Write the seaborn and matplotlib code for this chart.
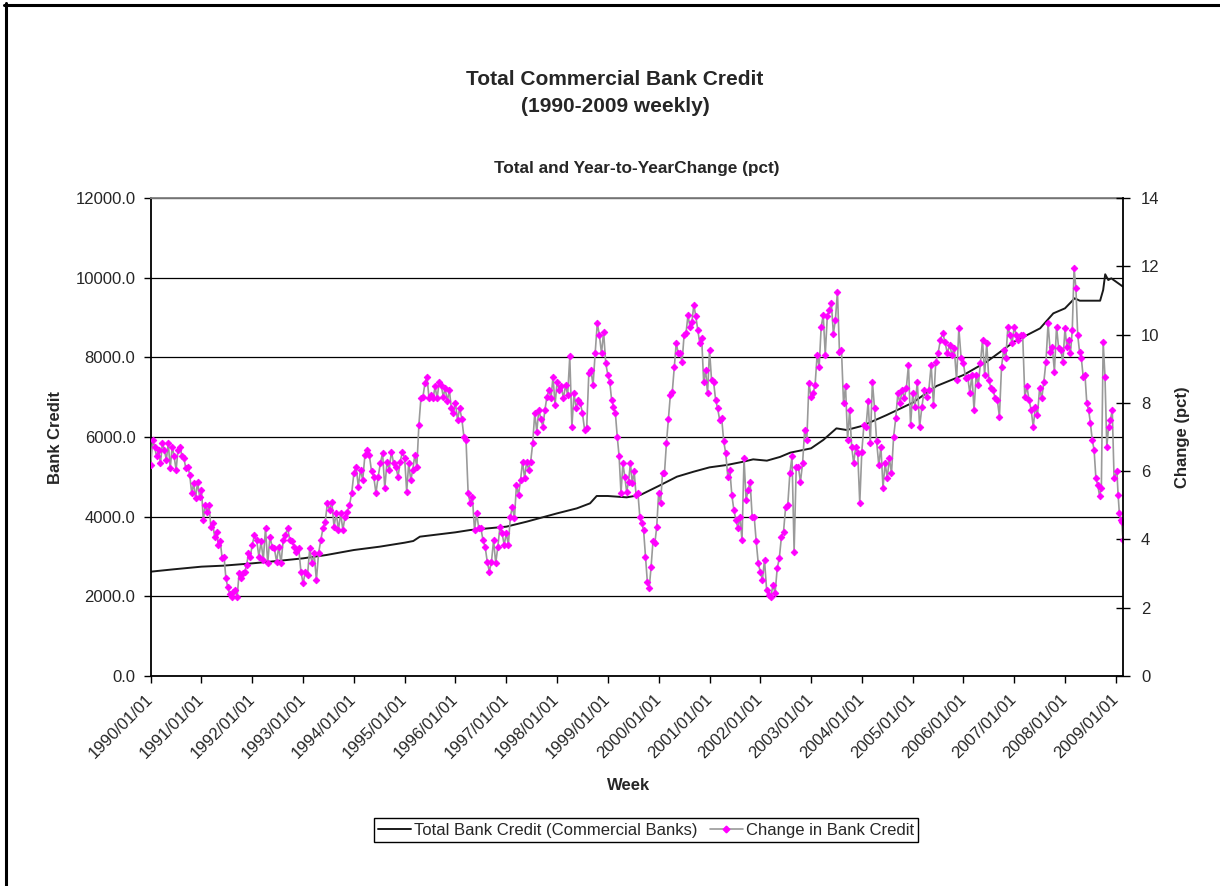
import numpy as np
import pandas as pd
import matplotlib
matplotlib.use("Agg")
import matplotlib.pyplot as plt
import seaborn as sns
from matplotlib.lines import Line2D
from matplotlib.ticker import FuncFormatter

# ---------------- data ----------------
# Year-to-year change (pct), readings within each calendar year (in order)
pct_1990 = [6.18, 6.91, 6.72, 6.43, 6.62, 6.23, 6.82, 6.62, 6.33, 6.82, 6.08, 6.72, 6.43,
            6.04, 6.62, 6.72, 6.43, 6.38, 6.08, 6.13, 5.89, 5.35, 5.64, 5.20, 5.69, 5.25]
pct_1991 = [5.45, 4.57, 5.01, 4.81, 5.01, 4.37, 4.47, 4.08, 4.23, 3.84, 3.94, 3.45, 3.50,
            2.86, 2.60, 2.40, 2.32, 2.45, 2.52, 2.32, 3.01, 2.86, 3.01, 3.06, 3.25, 3.59, 3.50]
pct_1992 = [3.84, 4.13, 3.98, 3.50, 3.94, 3.40, 4.33, 3.30, 4.08, 3.79, 3.74, 3.35, 3.79,
            3.30, 3.98, 4.13, 4.33, 3.98, 3.94, 3.79, 3.64, 3.74, 3.06]
pct_1993 = [2.71, 3.06, 2.96, 3.74, 3.30, 3.59, 2.81, 3.59, 3.98, 4.33, 4.52, 5.06, 4.86,
            5.11, 4.37, 4.77, 4.28, 4.77, 4.28, 4.67, 4.81, 5.01, 5.35]
pct_1994 = [5.94, 6.13, 5.55, 6.04, 5.74, 6.47, 6.62, 6.47, 5.99, 5.84, 5.35, 5.84, 6.23,
            6.52, 5.50, 6.28, 6.04, 6.57, 6.23, 6.13, 5.84, 6.28, 6.57]
pct_1995 = [6.38, 5.40, 6.23, 5.74, 6.04, 6.47, 6.13, 7.35, 8.13, 8.18, 8.57, 8.77, 8.13,
            8.23, 8.13, 8.48, 8.13, 8.62, 8.52, 8.18, 8.43, 8.04, 8.38, 7.84, 7.70]
pct_1996 = [7.99, 7.50, 7.84, 7.54, 7.01, 6.91, 5.35, 5.06, 5.25, 4.28, 4.77, 4.33, 4.33,
            3.98, 3.79, 3.35, 3.06, 3.35, 3.98, 3.30, 3.79, 4.37, 4.18, 3.84]
pct_1997 = [4.18, 3.84, 4.67, 4.96, 4.62, 5.60, 5.30, 5.74, 6.28, 5.79, 6.28, 6.04, 6.28,
            6.82, 7.70, 7.16, 7.79, 7.54, 7.30, 7.79, 8.18, 8.38, 8.13, 8.77, 7.94]
pct_1998 = [8.62, 8.38, 8.48, 8.13, 8.52, 8.23, 9.36, 7.30, 8.28, 7.84, 8.09, 7.99, 7.70,
            7.21, 7.26, 8.87, 8.96, 8.52, 9.45, 10.33, 9.98, 9.45, 10.08, 9.16]
pct_1999 = [8.82, 8.62, 8.09, 7.89, 7.70, 7.01, 6.43, 5.35, 6.23, 5.84, 5.40, 5.69, 6.23,
            5.64, 5.99, 5.30, 5.35, 4.67, 4.47, 4.28, 3.50, 2.76, 2.57, 3.20, 3.94, 3.89, 4.37]
pct_2000 = [5.35, 5.06, 5.94, 5.94, 6.82, 7.54, 8.23, 8.33, 9.06, 9.75, 9.45, 9.45, 9.20,
            9.98, 10.04, 10.57, 10.23, 10.37, 10.87, 10.53, 10.14, 9.75, 9.89, 8.62, 8.96, 8.28]
pct_2001 = [9.55, 8.67, 8.62, 8.09, 7.84, 7.50, 7.55, 6.87, 6.52, 5.84, 6.04, 5.30, 4.86,
            4.57, 4.33, 4.67, 3.98, 6.38, 5.16, 5.45, 5.69, 4.67, 4.67, 3.94, 3.30]
pct_2002 = [3.06, 2.81, 3.40, 2.52, 2.37, 2.32, 2.67, 2.42, 3.15, 3.45, 4.08, 4.23, 4.96,
            5.01, 5.94, 6.43, 3.64, 6.13, 6.13, 5.69, 6.23, 7.21, 6.91, 8.57]
pct_2003 = [8.18, 8.28, 8.52, 9.41, 9.06, 10.23, 10.57, 9.41, 10.53, 10.72, 10.92, 10.03,
            10.43, 11.26, 9.50, 9.55, 7.99, 8.48, 6.91, 7.79, 6.72, 6.23, 6.72, 6.52, 5.06]
pct_2004 = [6.57, 7.35, 7.30, 8.04, 6.82, 8.62, 7.84, 6.87, 6.18, 6.72, 5.52, 6.23, 5.79,
            6.38, 5.94, 7.01, 7.55, 8.28, 7.99, 8.38, 8.13, 8.43, 9.11, 7.35]
pct_2005 = [8.28, 7.89, 8.62, 7.30, 7.89, 8.38, 8.18, 8.38, 9.11, 7.94, 9.20, 9.45, 9.84,
            10.04, 9.79, 9.45, 9.70, 9.41, 9.60, 8.67, 10.18, 9.30]
pct_2006 = [9.16, 8.72, 8.77, 8.28, 8.82, 7.79, 8.82, 8.52, 9.16, 9.84, 8.82, 9.75, 8.67,
            8.43, 8.38, 8.13, 8.09, 7.60, 9.06, 9.55, 9.30, 10.23, 9.98, 9.75]
pct_2007 = [10.23, 9.98, 9.84, 9.98, 9.98, 8.18, 8.48, 8.09, 7.79, 7.30, 7.89, 7.65, 8.43,
            8.13, 8.62, 9.20, 10.33, 9.50, 9.65, 8.91, 10.23, 9.60, 9.55, 9.20]
pct_2008 = [10.18, 9.65, 9.84, 9.45, 10.13, 11.94, 11.36, 9.98, 9.50, 9.30, 8.77, 8.82,
            7.99, 7.79, 7.40, 6.91, 6.63, 5.79, 5.60, 5.28, 5.50, 9.79, 8.77, 6.72, 7.30,
            7.50, 7.79, 5.79]
pct_2009 = [5.99, 5.30, 4.77, 4.57, 4.52, 3.98]
pct_2009_span = [2009.02, 2009.14]   # first and last reading of 2009 (fractional year)

# Total bank credit (commercial banks), fractional year and level
credit_year = [1990.0, 1990.45, 1991.0, 1991.43, 1992.0, 1992.55, 1993.0, 1993.46, 1994.0,
               1994.51, 1995.0, 1995.17, 1995.30, 1996.0, 1996.29, 1997.0, 1997.40, 1998.0,
               1998.39, 1998.65, 1998.78, 1999.0, 1999.37, 1999.64, 2000.0, 2000.36, 2000.69,
               2001.0, 2001.34, 2001.67, 2001.86, 2002.13, 2002.39, 2002.59, 2003.0, 2003.24,
               2003.50, 2003.70, 2004.0, 2004.49, 2005.0, 2005.47, 2006.0, 2006.46, 2007.0,
               2007.51, 2007.77, 2008.0, 2008.19, 2008.29, 2008.69, 2008.75, 2008.79,
               2008.85, 2008.91, 2009.14]
credit_val = [2619, 2678, 2745, 2770, 2828, 2895, 2954, 3038, 3163, 3247, 3347, 3389, 3498,
              3607, 3665, 3749, 3874, 4083, 4209, 4335, 4519, 4519, 4485, 4544, 4770, 5004,
              5130, 5238, 5297, 5381, 5439, 5406, 5500, 5607, 5715, 5925, 6217, 6176, 6276,
              6552, 6862, 7280, 7556, 7891, 8393, 8728, 9104, 9230, 9482, 9422, 9422, 9690,
              10085, 9941, 9983, 9774]

x_tick_years = list(range(1990, 2010))
x_tick_labels = [f"{y}/01/01" for y in x_tick_years]
left_ticks = [0, 2000, 4000, 6000, 8000, 10000, 12000]
right_ticks = [0, 2, 4, 6, 8, 10, 12, 14]

title_text = "Total Commercial Bank Credit\n(1990-2009 weekly)"
subtitle_text = "Total and Year-to-YearChange (pct)"
label_credit = "Total Bank Credit (Commercial Banks)"
label_change = "Change in Bank Credit"

# ---------------- helpers ----------------
def frac_to_date(y):
    y0 = int(np.floor(y))
    start = pd.Timestamp(year=y0, month=1, day=1)
    end = pd.Timestamp(year=y0 + 1, month=1, day=1)
    return start + (end - start) * (y - y0)

pct_by_year = {1990: pct_1990, 1991: pct_1991, 1992: pct_1992, 1993: pct_1993,
               1994: pct_1994, 1995: pct_1995, 1996: pct_1996, 1997: pct_1997,
               1998: pct_1998, 1999: pct_1999, 2000: pct_2000, 2001: pct_2001,
               2002: pct_2002, 2003: pct_2003, 2004: pct_2004, 2005: pct_2005,
               2006: pct_2006, 2007: pct_2007, 2008: pct_2008}
fr, vals = [], []
for yr, v in pct_by_year.items():
    n = len(v)
    fr.extend(list(yr + np.arange(n) / n))
    vals.extend(v)
fr.extend(list(np.linspace(pct_2009_span[0], pct_2009_span[1], len(pct_2009))))
vals.extend(pct_2009)
pct_df = pd.DataFrame({"Week": [frac_to_date(f) for f in fr], "Change": vals})
credit_df = pd.DataFrame({"Week": [frac_to_date(f) for f in credit_year],
                          "Credit": credit_val})

# ---------------- style ----------------
sns.set_theme(style="white")
plt.rcParams["font.family"] = ["Liberation Sans", "DejaVu Sans"]

W, H = 1220, 886
fig = plt.figure(figsize=(W / 100, H / 100), dpi=100)
L, R, T, B = 150.7, 1123.0, 198.0, 676.0
ax = fig.add_axes([L / W, 1 - B / H, (R - L) / W, (B - T) / H])
ax2 = ax.twinx()

sns.lineplot(data=credit_df, x="Week", y="Credit", ax=ax, color="#1a1a1a",
             linewidth=1.4, estimator=None, sort=False, label=label_credit, legend=False)
sns.lineplot(data=pct_df, x="Week", y="Change", ax=ax2, color="#9a9a9a",
             linewidth=1.2, estimator=None, sort=False, marker="D", markersize=3.4,
             markerfacecolor="#FF00FF", markeredgecolor="#FF00FF", markeredgewidth=0.6,
             label=label_change, legend=False)

# axes limits and ticks
ax.set_xlim(frac_to_date(1990.0), frac_to_date(pct_2009_span[1]))
ax.set_ylim(0, 12000)
ax2.set_ylim(0, 14)
ax.set_yticks(left_ticks)
ax.yaxis.set_major_formatter(FuncFormatter(lambda v, p: f"{v:.1f}"))
ax2.set_yticks(right_ticks)
ax2.set_yticklabels([str(t) for t in right_ticks])
ax.set_xticks([pd.Timestamp(year=y, month=1, day=1) for y in x_tick_years])
ax.set_xticklabels(x_tick_labels, rotation=45, ha="right", rotation_mode="anchor",
                   va="center")

ax.tick_params(axis="x", direction="out", length=5, width=1, color="black",
               labelsize=12, pad=10, bottom=True)
ax.tick_params(axis="y", direction="out", length=5, width=1, color="black",
               labelsize=12, pad=6, left=True)
ax2.tick_params(axis="y", direction="inout", length=10, width=1, color="black",
                labelsize=12, pad=8, right=True)

ax.yaxis.grid(True, color="black", linewidth=0.9)
ax.xaxis.grid(False)
ax2.grid(False)
ax.set_axisbelow(True)

for sp in ["left", "bottom"]:
    ax.spines[sp].set_color("black")
    ax.spines[sp].set_linewidth(1.3)
ax.spines["top"].set_color("#808080")
ax.spines["top"].set_linewidth(1.3)
ax.spines["right"].set_visible(False)
for sp in ["left", "bottom", "top"]:
    ax2.spines[sp].set_visible(False)
ax2.spines["right"].set_color("black")
ax2.spines["right"].set_linewidth(1.3)

ax.set_xlabel("")
ax.set_ylabel("")
ax2.set_ylabel("")

# texts
fig.text(615 / W, 1 - 93 / H, title_text, ha="center", va="center", fontsize=15,
         fontweight="bold", linespacing=1.55)
fig.text(637 / W, 1 - 168 / H, subtitle_text, ha="center", va="center", fontsize=12.4,
         fontweight="bold")
fig.text(55 / W, 1 - 437 / H, "Bank Credit", ha="center", va="center", rotation=90,
         fontsize=12, fontweight="bold")
fig.text(1182 / W, 1 - 437 / H, "Change (pct)", ha="center", va="center", rotation=90,
         fontsize=12, fontweight="bold")
fig.text(629 / W, 1 - 786 / H, "Week", ha="center", va="center", fontsize=12,
         fontweight="bold")

# legend
handles = [Line2D([], [], color="#1a1a1a", linewidth=1.4),
           Line2D([], [], color="#9a9a9a", linewidth=1.2, marker="D", markersize=3.4,
                  markerfacecolor="#FF00FF", markeredgecolor="#FF00FF")]
leg = fig.legend(handles, [label_credit, label_change], loc="center",
                 bbox_to_anchor=(646 / W, 1 - 830 / H), ncol=2, fontsize=12,
                 frameon=True, fancybox=False, edgecolor="black", framealpha=1,
                 borderpad=0.25, handlelength=2.0, handletextpad=0.2,
                 columnspacing=0.7)
leg.get_frame().set_linewidth(1.0)

# chart-area border (left and top edges)
fig.add_artist(Line2D([5.5 / W, 5.5 / W], [0, 1 - 3 / H], color="black", linewidth=2.2,
                      transform=fig.transFigure))
fig.add_artist(Line2D([4 / W, 1], [1 - 4.5 / H, 1 - 4.5 / H], color="black",
                      linewidth=2.2, transform=fig.transFigure))

fig.savefig("out.png", dpi=100)
